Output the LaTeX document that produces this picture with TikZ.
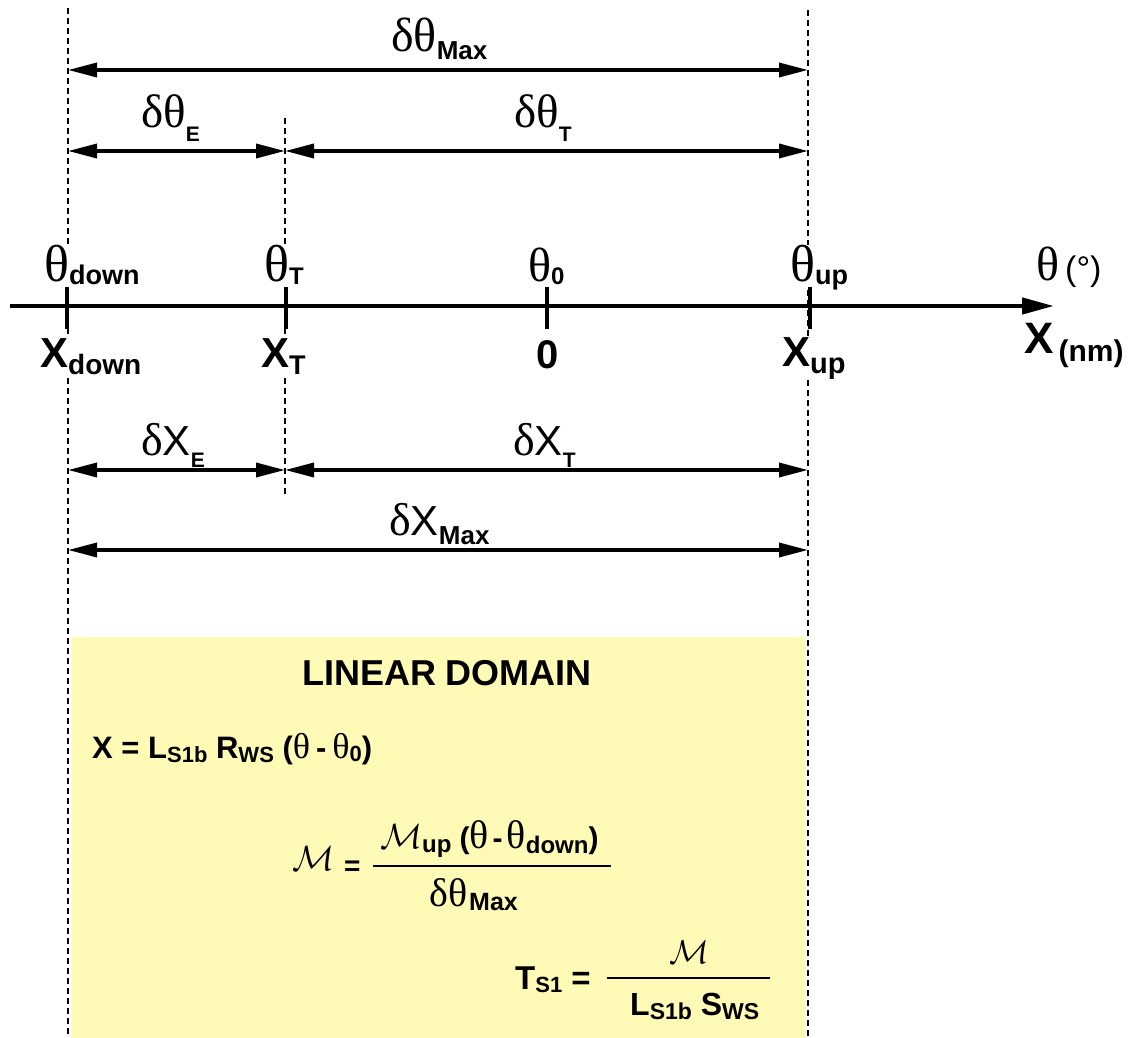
\documentclass[tikz,border=0pt]{standalone}
\usepackage{fontspec}
\setmainfont{Liberation Serif}
\newfontfamily\arial{Liberation Sans}
\usetikzlibrary{arrows.meta}
\definecolor{domainyellow}{RGB}{255,250,182}
\newcommand\gfs[1]{\rmfamily\mdseries\fontsize{#1}{#1}\selectfont}
\newcommand\afs[1]{\arial\mdseries\fontsize{#1}{#1}\selectfont}
\newcommand\bfs[1]{\arial\bfseries\fontsize{#1}{#1}\selectfont}
\newcommand\sbx[3]{\raisebox{-#1pt}{\bfs{#2}#3}}
\newcommand\Mc[1]{\scalebox{#1}{\normalsize$\mathcal{M}$}}
\begin{document}
\begin{tikzpicture}[x=1pt,y=-1pt,
  lbl/.style={inner sep=0pt, anchor=base west},
  axlbl/.style={lbl, fill=white},
  guide/.style={line width=2.2pt, dash pattern=on 6pt off 4pt},
  dim/.style={line width=3.5pt, {Triangle[length=29pt,width=14pt]}-{Triangle[length=29pt,width=14pt]}},
  tick/.style={line width=4.5pt},
  fracline/.style={line width=1.8pt}
]
\useasboundingbox (0,0) rectangle (1146,1038);
\fill[domainyellow] (71,637) rectangle (806,1038);
% guide lines
\coordinate (gLt) at (68,8);   \coordinate (gLb) at (68,1038);
\coordinate (gMt) at (285,118); \coordinate (gMb) at (285,497);
\coordinate (gRt) at (808,10); \coordinate (gRb) at (808,1038);
\draw[guide] (gLt) -- (gLb);
\draw[guide] (gMt) -- (gMb);
\draw[guide] (gRt) -- (gRb);
% dimension arrows
\coordinate (a1l) at (68,70);  \coordinate (a1r) at (808,70);
\coordinate (a2l) at (68,151); \coordinate (a2m) at (285,151); \coordinate (a2r) at (808,151);
\coordinate (a3l) at (68,470); \coordinate (a3m) at (285,470); \coordinate (a3r) at (808,470);
\coordinate (a4l) at (68,550); \coordinate (a4r) at (808,550);
\draw[dim] (a1l) -- (a1r);
\draw[dim] (a2l) -- (a2m);
\draw[dim] (a2m) -- (a2r);
\draw[dim] (a3l) -- (a3m);
\draw[dim] (a3m) -- (a3r);
\draw[dim] (a4l) -- (a4r);
\node[lbl] (dtmax) at (391,52) {{\gfs{48}δθ}\sbx{8}{26}{Max}};
\node[lbl] (dte) at (141,128) {{\gfs{47}δθ}\sbx{14}{21}{E}};
\node[lbl] (dtt) at (514,128) {{\gfs{47}δθ}\sbx{14}{21}{T}};
\node[lbl] (dxe) at (141,455) {{\gfs{46}δ}{\afs{42}X}\sbx{12}{21}{E}};
\node[lbl] (dxt) at (513,455) {{\gfs{46}δ}{\afs{42}X}\sbx{12}{21}{T}};
\node[lbl] (dxmax) at (389,535) {{\gfs{46}δ}{\afs{42}X}\sbx{9}{26}{Max}};
% axis labels
\node[axlbl] (tdown) at (44,281) {{\gfs{52}θ}\sbx{3}{27}{down}};
\node[axlbl] (tt) at (264,281) {{\gfs{52}θ}\sbx{3}{24}{T}};
\node[axlbl] (t0) at (528,281) {{\gfs{48}θ}\sbx{3}{24}{0}};
\node[axlbl] (tup) at (790,281) {{\gfs{52}θ}\sbx{3}{27}{up}};
\node[axlbl] (tunit) at (1036,280) {{\gfs{48}θ}\hspace{6pt}{\afs{34}(°)}};
\node[axlbl] (xdown) at (40,367) {{\bfs{42}X}\sbx{7}{28}{down}};
\node[axlbl] (xt) at (261,367) {{\bfs{42}X}\sbx{7}{27}{T}};
\node[axlbl, anchor=base] (x0) at (548,368) {{\bfs{40}0}};
\node[axlbl] (xup) at (782,366) {{\bfs{42}X}\sbx{7}{29}{up}};
\node[axlbl] (xunit) at (1024,353) {{\bfs{44}X}\hspace{5pt}\sbx{8}{30}{(nm)}};
% axis
\coordinate (axL) at (10,306); \coordinate (axR) at (1054,306);
\draw[line width=4.5pt, -{Triangle[length=32pt,width=16pt]}] (axL) -- (axR);
\foreach \x/\n in {67/k1,286/k2,547/k3,810/k4}{
  \coordinate (\n t) at (\x,287); \coordinate (\n b) at (\x,329);
  \draw[tick] (\n t) -- (\n b);
}
% linear domain
\node[inner sep=0pt, anchor=base, font=\bfs{36}] (title) at (447,685) {LINEAR DOMAIN};
\node[lbl, font=\bfs{31}] (eqx) at (92,758) {X = L\sbx{4}{22}{S1b} R\sbx{4}{22}{WS} ({\gfs{36}θ}\hspace{6pt}-\hspace{6pt}{\gfs{36}θ}\sbx{3}{22}{0})};
% M = fraction
\node[lbl] (meq) at (292,870) {\Mc{3.5}\hspace{10pt}\raisebox{-5pt}{\bfs{28}=}};
\node[lbl] (mnum) at (380,848) {\Mc{3.5}\sbx{4}{24}{up}\hspace{8pt}{\bfs{30}(}{\gfs{40}θ}\hspace{4pt}{\bfs{30}-}\hspace{4pt}{\gfs{40}θ}\sbx{5}{24}{down}{\bfs{30})}};
\coordinate (f1a) at (373,866); \coordinate (f1b) at (611,866);
\draw[fracline] (f1a) -- (f1b);
\node[lbl] (mden) at (429,906) {{\gfs{40}δθ}\hspace{2pt}\sbx{4}{25}{Max}};
% T_S1 fraction
\node[lbl, font=\bfs{33}] (teq) at (515,989) {T\sbx{3}{22}{S1}\hspace{9pt}=};
\node[inner sep=0pt, anchor=base] (tnum) at (689,963) {\Mc{3.3}};
\coordinate (f2a) at (607,978); \coordinate (f2b) at (770,978);
\draw[fracline] (f2a) -- (f2b);
\node[lbl, font=\bfs{32}] (tden) at (630,1015) {L\sbx{4}{23}{S1b} S\sbx{4}{23}{WS}};
\end{tikzpicture}
\end{document}
